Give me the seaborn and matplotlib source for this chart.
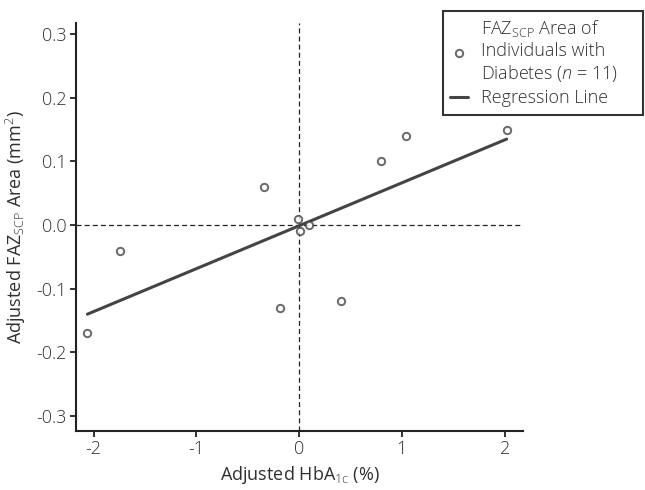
import matplotlib
matplotlib.use("Agg")
import matplotlib.pyplot as plt
import seaborn as sns
import pandas as pd

hba1c = [-2.06, -1.74, -0.34, -0.19, -0.01, 0.01, 0.10, 0.41, 0.80, 1.04, 2.02]
faz = [-0.17, -0.04, 0.06, -0.13, 0.01, -0.01, 0.00, -0.12, 0.10, 0.14, 0.15]
xticks = [-2, -1, 0, 1, 2]
yticks = [-0.3, -0.2, -0.1, 0.0, 0.1, 0.2, 0.3]

sns.set_theme(style="ticks")
plt.rcParams['font.family'] = ['Open Sans', 'DejaVu Sans']
plt.rcParams['font.weight'] = 300
plt.rcParams['mathtext.fontset'] = 'custom'
plt.rcParams['mathtext.rm'] = 'Open Sans:light'
plt.rcParams['mathtext.it'] = 'Open Sans:italic:light'
TXT = '#303030'
DARK = '#444444'
FS = 13

df = pd.DataFrame({'x': hba1c, 'y': faz})

fig = plt.figure(figsize=(6.45, 4.9), dpi=100)
ax = fig.add_axes([0.118, 0.121, 0.693, 0.833])

ax.axhline(0, color='#222222', lw=0.9, ls=(0, (4, 2.5)), zorder=1)
ax.axvline(0, color='#222222', lw=0.9, ls=(0, (4, 2.5)), zorder=1)

sns.regplot(data=df, x='x', y='y', ax=ax, ci=None,
            label='FAZ$_{\\mathrm{SCP}}$ Area of\nIndividuals with\nDiabetes ($n$ = 11)',
            scatter_kws=dict(s=28, facecolors='white', edgecolors=DARK, linewidths=1.4, zorder=3),
            line_kws=dict(color=DARK, lw=2.2, label='Regression Line', zorder=2))

ax.set_xlim(-2.17, 2.18)
ax.set_ylim(-0.323, 0.318)
ax.set_xticks(xticks)
ax.set_xticklabels([str(t) for t in xticks])
ax.set_yticks(yticks)
ax.set_yticklabels([f'{t:.1f}'.replace('-0.0', '0.0') for t in yticks])
for s in ['top', 'right']:
    ax.spines[s].set_visible(False)
for s in ['left', 'bottom']:
    ax.spines[s].set_linewidth(1.5)
    ax.spines[s].set_color('#222222')
ax.tick_params(axis='both', direction='out', length=4, width=1.3, color='#222222',
               labelsize=FS, labelcolor=TXT, pad=3)
ax.set_xlabel('Adjusted HbA$_{\\mathrm{1c}}$ (%)', fontsize=FS, color=TXT, labelpad=4)
ax.set_ylabel('Adjusted FAZ$_{\\mathrm{SCP}}$ Area (mm$^2$)', fontsize=FS, color=TXT, labelpad=6)

leg = ax.legend(loc='upper left', bbox_to_anchor=(0.687, 0.77, 0.31, 0.208),
                bbox_transform=fig.transFigure, mode='expand',
                fancybox=False, frameon=True, edgecolor='black', fontsize=FS,
                borderaxespad=0, handlelength=1.0, handletextpad=0.7, borderpad=0.4,
                labelspacing=0.3, labelcolor=TXT)
leg.get_frame().set_linewidth(1.5)

fig.savefig('out.png', dpi=100)
